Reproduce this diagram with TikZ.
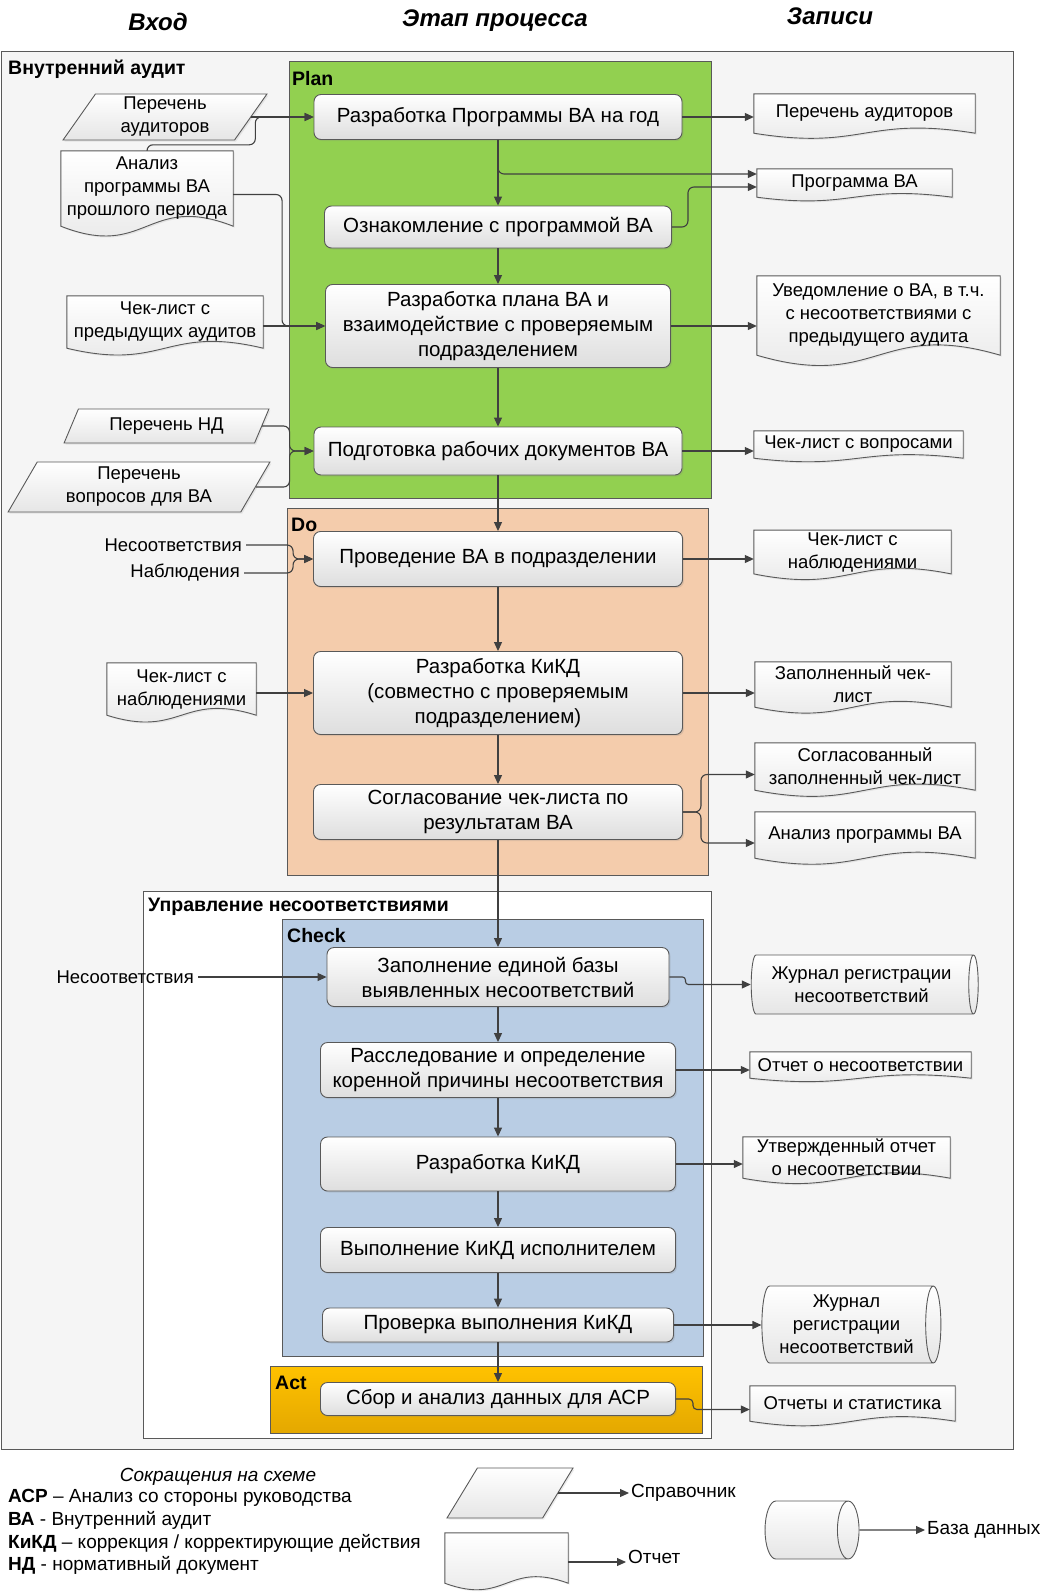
\documentclass[tikz,border=0pt]{standalone}
\usepackage{fontspec}
\setmainfont{Liberation Sans}
\usetikzlibrary{shapes.geometric,arrows.meta,calc,shadows}

\pgfdeclarelayer{back}
\pgfsetlayers{back,main}

\definecolor{planGreen}{RGB}{146,208,80}
\definecolor{doPeach}{RGB}{244,204,172}
\definecolor{checkBlue}{RGB}{185,205,228}
\definecolor{actTop}{RGB}{255,194,0}
\definecolor{actBot}{RGB}{228,168,0}
\definecolor{lineGray}{RGB}{64,64,64}

\newcommand{\procfont}{\fontsize{20.5}{25}\selectfont}
\newcommand{\recfont}{\fontsize{18.5}{23}\selectfont}
\newcommand{\lanefont}{\fontsize{19.5}{23}\selectfont\bfseries}
\newcommand{\headfont}{\fontsize{24}{28}\selectfont\bfseries\itshape}
\newcommand{\legfont}{\fontsize{19}{22.7}\selectfont}

% document outline with a wavy bottom
\newcommand{\docshape}[1]{%
  \draw[docline] let \p1=($(#1.north)-(#1.south)$) in
    (#1.north west) -- (#1.north east) -- (#1.south east)
    .. controls ($(#1.south)+(0,0.45*\y1)$) and ($(#1.south)+(0,-0.45*\y1)$) .. (#1.south west) -- cycle;}

\tikzset{
  lane/.style={draw=black!65, line width=1pt},
  lanelabel/.style={font=\lanefont, anchor=west, inner sep=0pt},
  head/.style={font=\headfont},
  proc/.style={rounded corners=7pt, draw=black!65, line width=0.9pt,
    top color=white, bottom color=black!13,
    drop shadow={opacity=0.2, shadow xshift=1.5pt, shadow yshift=-1.5pt},
    align=center, font=\procfont, inner sep=2pt},
  doc/.style={align=center, font=\recfont, inner sep=2pt},
  docline/.style={draw=black!65, line width=0.9pt, top color=white, bottom color=black!10,
    drop shadow={opacity=0.15, shadow xshift=1.5pt, shadow yshift=-1.5pt}},
  para/.style={trapezium, trapezium left angle=63, trapezium right angle=117,
    trapezium stretches=true, draw=black!65, line width=0.9pt,
    top color=white, bottom color=black!10,
    drop shadow={opacity=0.15, shadow xshift=1.5pt, shadow yshift=-1.5pt},
    align=center, font=\recfont, inner sep=1pt},
  dbase/.style={cylinder, shape border rotate=0, aspect=0.25, draw=black!65, line width=0.9pt,
    top color=white, bottom color=black!10, align=center, font=\recfont, inner sep=1pt},
  plain/.style={font=\recfont, inner sep=4pt},
  flow/.style={draw=lineGray, line width=1.1pt, -{Triangle[length=9pt,width=8pt]}},
}

\begin{document}
\begin{tikzpicture}[x=1pt,y=-1pt]

    \useasboundingbox (0,0) rectangle (1043,1595);

    %% Frames
    \begin{pgfonlayer}{back}
    \draw[lane, fill=black!4] (1,52) rectangle (1013,1449);
    \draw[lane, fill=planGreen] (289,62) rectangle (711,498);
    \draw[lane, fill=doPeach] (287,508) rectangle (708,875);
    \draw[lane, fill=white] (143,891) rectangle (711,1438);
    \draw[lane, fill=checkBlue] (282,919) rectangle (703,1356);
    \draw[lane, top color=actTop, bottom color=actBot] (270,1366) rectangle (702,1433);
    \end{pgfonlayer}

    % Column heads
    \node[head] (hIn) at (158,22) {Вход};
    \node[head] (hProc) at (495,21) {Этап процесса};
    \node[head] (hOut) at (830,16) {Записи};

    % Frame labels
    \node[lanelabel] (lblAudit) at (8,69) {Внутренний аудит};
    \node[lanelabel] (lblPlan) at (292,79) {Plan};
    \node[lanelabel] (lblDo) at (291,525) {Do};
    \node[lanelabel] (lblNc) at (148,907) {Управление несоответствиями};
    \node[lanelabel] (lblCheck) at (287,936) {Check};
    \node[lanelabel] (lblAct) at (275,1383) {Act};

    %% Process steps
    \node[proc, minimum width=368, minimum height=45] (p1) at (498,117) {Разработка Программы ВА на год};
    \node[proc, minimum width=347, minimum height=42] (p2) at (498,227) {Ознакомление с программой ВА};
    \node[proc, minimum width=345, minimum height=83] (p3) at (498,326) {Разработка плана ВА и\\взаимодействие с проверяемым\\подразделением};
    \node[proc, minimum width=368, minimum height=48] (p4) at (498,451) {Подготовка рабочих документов ВА};
    \node[proc, minimum width=369, minimum height=55] (p5) at (498,559) {Проведение ВА в подразделении};
    \node[proc, minimum width=369, minimum height=83] (p6) at (498,693) {Разработка КиКД\\(совместно с проверяемым\\подразделением)};
    \node[proc, minimum width=369, minimum height=55] (p7) at (498,812) {Согласование чек-листа по\\результатам ВА};
    \node[proc, minimum width=342, minimum height=59] (p8) at (498,977) {Заполнение единой базы\\выявленных несоответствий};
    \node[proc, minimum width=355, minimum height=55] (p9) at (498,1070) {Расследование и определение\\коренной причины несоответствия};
    \node[proc, minimum width=355, minimum height=54] (p10) at (498,1164) {Разработка КиКД};
    \node[proc, minimum width=355, minimum height=45] (p11) at (498,1250) {Выполнение КиКД исполнителем};
    \node[proc, minimum width=351, minimum height=34] (p12) at (498,1325) {Проверка выполнения КиКД};
    \node[proc, minimum width=355, minimum height=33] (p13) at (498,1399) {Сбор и анализ данных для АСР};

    %% Inputs
    \node[para, minimum width=204, minimum height=46] (i1) at (165,117) {Перечень\\аудиторов};
    \node[doc, minimum width=172, minimum height=75] (i2) at (147,188.5) {Анализ\\программы ВА\\прошлого периода};
    \node[doc, minimum width=196, minimum height=52] (i3) at (165,322) {Чек-лист с\\предыдущих аудитов};
    \node[para, minimum width=205, minimum height=34] (i4) at (166.5,426) {Перечень НД};
    \node[para, minimum width=262, minimum height=50] (i5) at (139,487) {Перечень\\вопросов для ВА};
    \node[plain, anchor=east] (i6) at (246,545) {Несоответствия};
    \node[plain, anchor=east] (i7) at (244,573) {Наблюдения};
    \node[doc, minimum width=149, minimum height=52] (i8) at (181.5,689) {Чек-лист с\\наблюдениями};
    \node[plain, anchor=east] (i9) at (198,977) {Несоответствия};

    %% Records
    \node[doc, minimum width=221, minimum height=39] (r1) at (864.5,113.5) {Перечень аудиторов};
    \node[doc, minimum width=195, minimum height=28] (r2) at (854.5,183) {Программа ВА};
    \node[doc, minimum width=243, minimum height=79] (r3) at (878.5,315.5) {Уведомление о ВА, в т.ч.\\с несоответствиями с\\предыдущего аудита};
    \node[doc, minimum width=209, minimum height=27] (r4) at (858.5,444.5) {Чек-лист с вопросами};
    \node[doc, minimum width=197, minimum height=42] (r5) at (852.5,552) {Чек-лист с\\наблюдениями};
    \node[doc, minimum width=196, minimum height=45] (r6) at (853,684.5) {Заполненный чек-\\лист};
    \node[doc, minimum width=220, minimum height=47] (r7) at (865,766.5) {Согласованный\\заполненный чек-лист};
    \node[doc, minimum width=220, minimum height=46] (r8) at (865,835) {Анализ программы ВА};
    \node[dbase, minimum height=227, minimum width=59] (r9) at (861.5,984.5) {Журнал регистрации\\несоответствий};
    \node[doc, minimum width=221, minimum height=26] (r10) at (860.5,1065) {Отчет о несоответствии};
    \node[doc, minimum width=207, minimum height=41] (r11) at (846.5,1157.5) {Утвержденный отчет\\о несоответствии};
    \node[dbase, minimum height=179, minimum width=77] (r12) at (846.5,1324.5) {Журнал\\регистрации\\несоответствий};
    \node[doc, minimum width=205, minimum height=35] (r13) at (852.5,1403.5) {Отчеты и статистика};

    %% Legend
    \node[font=\legfont\itshape] (legTitle) at (218,1477) {Сокращения на схеме};
    \node[anchor=west, align=left, font=\legfont, inner sep=2pt] (legText) at (6,1532)
      {\textbf{АСР} – Анализ со стороны руководства\\
       \textbf{ВА} - Внутренний аудит\\
       \textbf{КиКД} – коррекция / корректирующие действия\\
       \textbf{НД} - нормативный документ};
    \node[para, trapezium left angle=65, trapezium right angle=115, minimum width=126, minimum height=50] (lg1) at (510,1493) {};
    \node[doc, minimum width=123, minimum height=50] (lg2) at (506.5,1558) {};
    \node[dbase, aspect=0.4, minimum height=94, minimum width=58] (lg3) at (805,1530) {\rule{0pt}{52pt}};
    \node[plain, anchor=west, font=\legfont, inner sep=2pt] (la1) at (629,1493) {Справочник};
    \node[plain, anchor=west, font=\legfont, inner sep=2pt] (la2) at (626,1557) {Отчет};
    \node[plain, anchor=west, font=\legfont, inner sep=2pt] (la3) at (925,1530) {База данных};

    % Document outlines
    \begin{pgfonlayer}{back}
    \foreach \docn in {i2,i3,i8,r1,r2,r3,r4,r5,r6,r7,r8,r10,r11,r13,lg2}
      {\docshape{\docn}}
    \end{pgfonlayer}

    %% Flow down the process
    \foreach \a/\b in {p1/p2,p2/p3,p3/p4,p4/p5,p5/p6,p6/p7,p7/p8,p8/p9,p9/p10,p10/p11,p11/p12,p12/p13}
      {\draw[flow] (\a) -- (\b);}

    % Inputs to steps
    \draw[flow] (i1.east) -- (i1.east -| p1.west);
    \draw[flow, rounded corners=6] (i2.north) -- ++(0,-6) -| ($(i1.east)+(4,0)$) -- (i1.east -| p1.west);
    \draw[flow, rounded corners=6] ([yshift=-6pt]i2.east) -| ($(p3.west)+(-43,0)$) -- (p3.west);
    \draw[flow] (i3.east |- p3.west) -- (p3.west);
    \draw[flow, rounded corners=6] (i4.east) -| ($(p4.west)+(-24,0)$) -- (p4.west);
    \draw[flow, rounded corners=6] (i5.east) -| ($(p4.west)+(-24,0)$) -- (p4.west);
    \draw[flow, rounded corners=6] (i6.east) -| ($(p5.west)+(-20,0)$) -- (p5.west);
    \draw[flow, rounded corners=6] (i7.east) -| ($(p5.west)+(-20,0)$) -- (p5.west);
    \draw[flow] (i8.east |- p6.west) -- (p6.west);
    \draw[flow] (i9.east) -- (i9.east -| p8.west);

    % Steps to records
    \draw[flow] (p1.east) -- (p1.east -| r1.west);
    \draw[flow, rounded corners=6] (p1.south) |- ([yshift=9pt]r2.west);
    \draw[flow, rounded corners=6] (p2.east) -- ++(16,0) |- ([yshift=-4pt]r2.west);
    \draw[flow] (p3.east) -- (p3.east -| r3.west);
    \draw[flow] (p4.east) -- (p4.east -| r4.west);
    \draw[flow] (p5.east) -- (p5.east -| r5.west);
    \draw[flow] (p6.east) -- (p6.east -| r6.west);
    \draw[flow, rounded corners=6] (p7.east) -- ++(18,0) |- ([yshift=-8pt]r7.west);
    \draw[flow, rounded corners=6] (p7.east) -- ++(18,0) |- ([yshift=-8pt]r8.west);
    \draw[flow, rounded corners=3] (p8.east) -- ++(16,0) |- (r9.west);
    \draw[flow] (p9.east) -- (p9.east -| r10.west);
    \draw[flow] (p10.east) -- (p10.east -| r11.west);
    \draw[flow] (p12.east) -- (p12.east -| r12.west);
    \draw[flow, rounded corners=4] (p13.east) -- ++(17,0) |- ([yshift=-6pt]r13.west);

    % Legend arrows
    \draw[flow] (lg1.east) -- (la1.west);
    \draw[flow] ([yshift=-4pt]lg2.east) -- ([yshift=-4pt]lg2.east -| la2.west);
    \draw[flow] (lg3.east) -- (la3.west);

\end{tikzpicture}
\end{document}
